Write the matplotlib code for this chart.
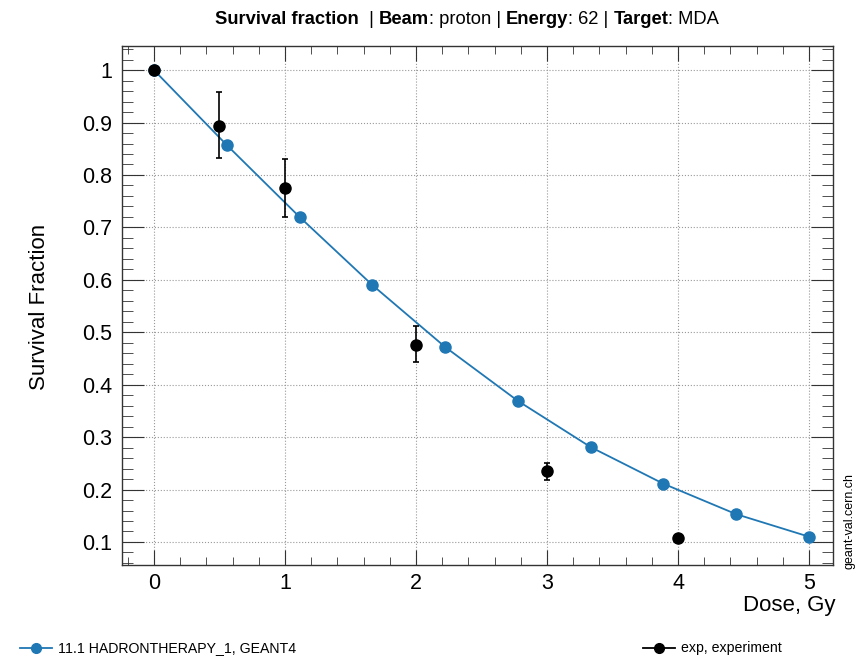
import numpy as np
import matplotlib
matplotlib.use("Agg")
import matplotlib.pyplot as plt
from matplotlib.ticker import MultipleLocator
from matplotlib.lines import Line2D

plt.rcParams['font.family'] = ['Liberation Sans', 'DejaVu Sans']

# Geant4 simulation (11.1 HADRONTHERAPY_1)
sim_dose = [0.0, 0.556, 1.111, 1.667, 2.222, 2.778, 3.333, 3.889, 4.444, 5.0]
sim_sf = [1.0, 0.857, 0.720, 0.590, 0.472, 0.369, 0.281, 0.211, 0.153, 0.110]

# experiment
exp_dose = [0.0, 0.5, 1.0, 2.0, 3.0, 4.0]
exp_sf = [1.0, 0.893, 0.775, 0.476, 0.235, 0.108]
exp_err_lo = [0.0, 0.061, 0.055, 0.033, 0.017, 0.0]
exp_err_hi = [0.0, 0.065, 0.055, 0.036, 0.016, 0.0]

blue = '#1f77b4'
W, H = 867, 660

fig = plt.figure(figsize=(8.67, 6.6), dpi=100)
ax = fig.add_axes([0.1407, 0.1439, 0.8201, 0.7864])

ax.plot(sim_dose, sim_sf, color=blue, lw=1.3, marker='o', ms=8, zorder=3)
ax.errorbar(exp_dose, exp_sf, yerr=[exp_err_lo, exp_err_hi], fmt='o', color='black',
            ms=8, elinewidth=1.2, capsize=2, capthick=1.2, zorder=4)

ax.set_xlim(-0.244, 5.183)
ax.set_ylim(0.056, 1.046)
ax.xaxis.set_major_locator(MultipleLocator(1))
ax.xaxis.set_minor_locator(MultipleLocator(0.2))
ax.yaxis.set_minor_locator(MultipleLocator(0.02))
ax.set_yticks(np.arange(0.1, 1.01, 0.1))
ax.set_yticklabels(['0.1', '0.2', '0.3', '0.4', '0.5', '0.6', '0.7', '0.8', '0.9', '1'])

ax.tick_params(axis='both', which='both', direction='in', top=True, right=True,
               labelsize=15.5, color='#333333')
ax.tick_params(axis='x', which='major', length=11, pad=6)
ax.tick_params(axis='x', which='minor', length=6)
ax.tick_params(axis='y', which='major', length=16, pad=7)
ax.tick_params(axis='y', which='minor', length=8)
for sp in ax.spines.values():
    sp.set_color('#333333')
    sp.set_linewidth(1)

ax.grid(True, which='major', linestyle=':', color='#999999', lw=0.8)
ax.set_axisbelow(True)

fig.text(40 / W, 1 - 307 / H, 'Survival Fraction', rotation=90, ha='center', va='center',
         fontsize=16)
ax.text(1.004, -0.0886, 'Dose, Gy', transform=ax.transAxes, ha='right', va='baseline',
        fontsize=16)

fig.text(850 / W, 1 - 521 / H, 'geant-val.cern.ch', rotation=90, ha='center', va='center',
         fontsize=9)

# title built from bold and regular pieces
pieces = [('Survival fraction ', 'bold'), (' | ', 'normal'), ('Beam', 'bold'),
          (': proton | ', 'normal'), ('Energy', 'bold'), (': 62 | ', 'normal'),
          ('Target', 'bold'), (': MDA', 'normal')]
fig.canvas.draw()
renderer = fig.canvas.get_renderer()
objs = [fig.text(0, 1 - 20 / H, s, fontsize=13.2, fontweight=w, va='center') for s, w in pieces]
widths = [o.get_window_extent(renderer).width for o in objs]
x = 467 - sum(widths) / 2
for o, w in zip(objs, widths):
    o.set_x(x / W)
    x += w

# legend entries along the bottom
legend_items = [(20, 52, blue, '11.1 HADRONTHERAPY_1, GEANT4'),
                (643, 675, 'black', 'exp, experiment')]
ly = 1 - 648 / H
for x0, x1, c, label in legend_items:
    fig.add_artist(Line2D([x0 / W, x1 / W], [ly, ly], color=c, lw=1.3,
                          transform=fig.transFigure))
    fig.add_artist(Line2D([(x0 + x1) / 2 / W], [ly], color=c, marker='o', ms=7,
                          transform=fig.transFigure))
    fig.text((x1 + 6) / W, ly, label, ha='left', va='center', fontsize=10.2)

fig.savefig('out.png', dpi=100)
